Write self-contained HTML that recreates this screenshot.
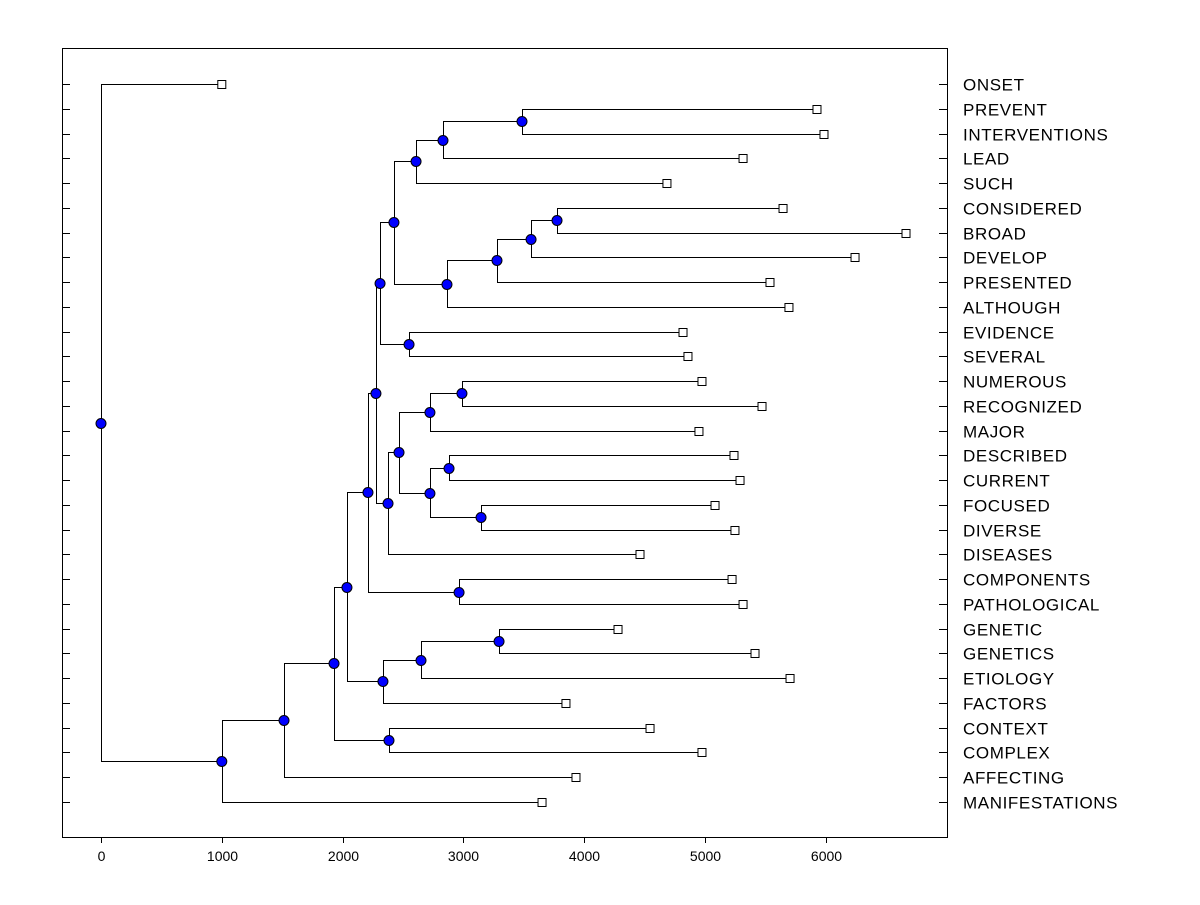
<!DOCTYPE html>
<html><head><meta charset="utf-8"><style>
body{margin:0;background:#fff;}
svg text{font-family:"Liberation Sans",Arial,sans-serif;}
</style></head><body>
<svg id="chart" width="1200" height="900" viewBox="0 0 1200 900">
<rect x="62.5" y="48.5" width="885" height="789" fill="#fff" stroke="#000"/>
<g id="ticks"></g><g id="links"></g><g id="marks"></g><g id="labels"></g>
</svg>
<script>
const leafNames = ["ONSET","PREVENT","INTERVENTIONS","LEAD","SUCH","CONSIDERED","BROAD","DEVELOP","PRESENTED","ALTHOUGH","EVIDENCE","SEVERAL","NUMEROUS","RECOGNIZED","MAJOR","DESCRIBED","CURRENT","FOCUSED","DIVERSE","DISEASES","COMPONENTS","PATHOLOGICAL","GENETIC","GENETICS","ETIOLOGY","FACTORS","CONTEXT","COMPLEX","AFFECTING","MANIFESTATIONS"];
const leafValues = [1000,5927,5985,5315,4685,5646,6664,6242,5538,5695,4818,4859,4975,5472,4950,5240,5290,5083,5248,4462,5224,5315,4280,5414,5704,3849,4545,4975,3932,3651];
const nodeIds = ["root","A","B","C","E","D","G","H","I","F","K","J","M","N","O","Q","P","R","S","L","U","T","V","X","Y","W","Z","AA","AB"];
const nodeHeights = [0,1000,1515,1929,2384,2036,2334,2649,3295,2210,2964,2276,2376,2467,2723,2988,2723,2881,3146,2310,2550,2425,2608,2831,3485,2864,3278,3560,3775];
const nodeLeft = ["ONSET","B","C","D","CONTEXT","F","H","I","GENETIC","J","COMPONENTS","L","N","O","Q","NUMEROUS","R","DESCRIBED","FOCUSED","T","EVIDENCE","V","X","Y","PREVENT","Z","AA","AB","CONSIDERED"];
const nodeRight = ["A","MANIFESTATIONS","AFFECTING","E","COMPLEX","G","FACTORS","ETIOLOGY","GENETICS","K","PATHOLOGICAL","M","DISEASES","P","MAJOR","RECOGNIZED","S","CURRENT","DIVERSE","U","SEVERAL","W","SUCH","LEAD","INTERVENTIONS","ALTHOUGH","PRESENTED","DEVELOP","BROAD"];
const xTicks = [0,1000,2000,3000,4000,5000,6000];

const NS="http://www.w3.org/2000/svg";
const xs = v => 101 + v*0.1208;
const ys = i => 84 + i*(718/29);
function mk(parent, tag, attrs){const e=document.createElementNS(NS,tag);for(const k in attrs)e.setAttribute(k,attrs[k]);document.getElementById(parent).appendChild(e);return e;}
const pos = {};
leafNames.forEach((n,i)=>{pos[n]={x:xs(leafValues[i]),y:ys(i)};});
function resolve(id){
  if(pos[id]) return pos[id];
  const k=nodeIds.indexOf(id);
  const a=resolve(nodeLeft[k]), b=resolve(nodeRight[k]);
  pos[id]={x:xs(nodeHeights[k]),y:(a.y+b.y)/2};
  return pos[id];
}
nodeIds.forEach(id=>resolve(id));
leafNames.forEach((n,i)=>{
  const y=Math.round(ys(i))+0.5;
  const t1=mk("ticks","line",{x1:62,x2:70,y1:y,y2:y,stroke:"#000"});
  
  
  const t2=mk("ticks","line",{x1:939,x2:947,y1:y,y2:y,stroke:"#000"});
  
  
  const lb=mk("labels","text",{x:963,y:y+6,"font-size":"17","letter-spacing":"0.6"});
  lb.textContent=n;
  
  
});
xTicks.forEach(v=>{
  const x=Math.round(xs(v))+0.5;
  const t=mk("ticks","line",{x1:x,x2:x,y1:837,y2:843,stroke:"#000"});
  
  
  const lb=mk("labels","text",{x:x,y:861,"font-size":"14","text-anchor":"middle"});
  lb.textContent=v;
  
  
});
nodeIds.forEach((id,k)=>{
  const p=pos[id],a=pos[nodeLeft[k]],b=pos[nodeRight[k]];
  const px=Math.round(p.x)+0.5;
  const d=`M${a.x},${Math.round(a.y)+0.5}H${px}V${Math.round(b.y)+0.5}H${b.x}`;
  const l=mk("links","path",{d:d,fill:"none",stroke:"#000","stroke-width":1});
  
  
});
leafNames.forEach(n=>{
  const p=pos[n];
  const r=mk("marks","rect",{x:p.x-4,y:Math.round(p.y)-3.5,width:8,height:8,fill:"#fff",stroke:"#000"});
  
  
});
nodeIds.forEach(id=>{
  const p=pos[id];
  const c=mk("marks","circle",{cx:p.x,cy:Math.round(p.y)+0.5,r:5,fill:"#0000ff",stroke:"#000"});
  
  
});
</script>
</body></html>
